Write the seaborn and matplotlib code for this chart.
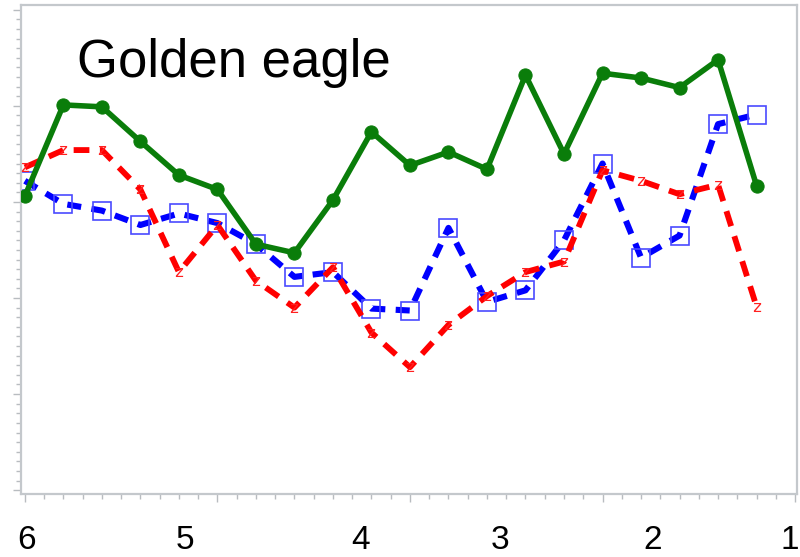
import matplotlib
matplotlib.use("Agg")
import matplotlib.pyplot as plt
from matplotlib.ticker import MultipleLocator
import seaborn as sns
import pandas as pd

# Sampling positions along the transect (major unit = 1, minor = 0.1)
positions = [0.0, 0.2, 0.4, 0.6, 0.8, 1.0, 1.2, 1.4, 1.6, 1.8,
             2.0, 2.2, 2.4, 2.6, 2.8, 3.0, 3.2, 3.4, 3.6, 3.8]

green_series = [3.06, 4.01, 3.99, 3.63, 3.28, 3.13, 2.56, 2.47, 3.02, 3.73,
                3.38, 3.52, 3.34, 4.32, 3.50, 4.34, 4.29, 4.19, 4.48, 3.17]
blue_series = [3.22, 2.98, 2.91, 2.76, 2.88, 2.78, 2.56, 2.22, 2.27, 1.89,
               1.87, 2.73, 1.96, 2.08, 2.60, 3.40, 2.42, 2.65, 3.81, 3.91]
red_series = [3.36, 3.54, 3.54, 3.13, 2.27, 2.76, 2.18, 1.90, 2.32, 1.64,
              1.28, 1.72, 2.02, 2.27, 2.38, 3.33, 3.22, 3.08, 3.18, 1.91]

section_labels = ["6", "5", "4", "3", "2", "1"]
section_label_x = [0.01, 0.83, 1.745, 2.47, 3.26, 3.97]

title_text = "Golden eagle"

sns.set_style("white")
plt.rcParams["font.family"] = ["Liberation Sans", "DejaVu Sans"]

df = pd.DataFrame({"pos": positions, "green": green_series,
                   "blue": blue_series, "red": red_series})

fig = plt.figure(figsize=(8.0, 5.57), dpi=100)
ax = fig.add_axes([21 / 800, 1 - 494 / 557, 776 / 800, 489 / 557])

sns.lineplot(data=df, x="pos", y="blue", ax=ax, color="#0000ff",
             linewidth=4.4, linestyle=(0, (2.3, 1.7)), marker="s",
             markersize=13, markerfacecolor="none",
             markeredgecolor="#4a4aff", markeredgewidth=1.2, zorder=2)
sns.lineplot(data=df, x="pos", y="red", ax=ax, color="#ff0000",
             linewidth=4.2, linestyle=(0, (2.7, 1.8)),
             marker=r"$\mathrm{z}$", markersize=6.5,
             markerfacecolor="#ff2020", markeredgecolor="#ff2020",
             markeredgewidth=0.0, zorder=3)
sns.lineplot(data=df, x="pos", y="green", ax=ax, color="#0a7d0a",
             linewidth=4.0, marker="o", markersize=9.5,
             markeredgecolor="#0a7d0a", zorder=4)

ax.set_xlim(-0.02, 4.01)
ax.set_ylim(-0.04, 5.05)

ax.xaxis.set_major_locator(MultipleLocator(1.0))
ax.xaxis.set_minor_locator(MultipleLocator(0.1))
ax.yaxis.set_major_locator(MultipleLocator(1.0))
ax.yaxis.set_minor_locator(MultipleLocator(0.1))
ax.tick_params(axis="both", which="both", direction="out", color="#b8bcc0",
               width=1.0, labelbottom=False, labelleft=False)
ax.tick_params(axis="both", which="major", length=6, bottom=True, left=True)
ax.tick_params(axis="both", which="minor", length=3.5, bottom=True, left=True)

for side in ["left", "bottom", "right", "top"]:
    ax.spines[side].set_color("#c4c8cc")
    ax.spines[side].set_linewidth(1.6)

ax.set_xlabel("")
ax.set_ylabel("")

ax.text(0.072, 0.853, title_text, transform=ax.transAxes, fontsize=38,
        ha="left", va="baseline", color="black")

trans = ax.get_xaxis_transform()
for lab, xp in zip(section_labels, section_label_x):
    ax.text(xp, -0.127, lab, transform=trans, fontsize=24,
            ha="center", va="bottom", color="black", clip_on=False)

fig.savefig("out.png", dpi=100)
